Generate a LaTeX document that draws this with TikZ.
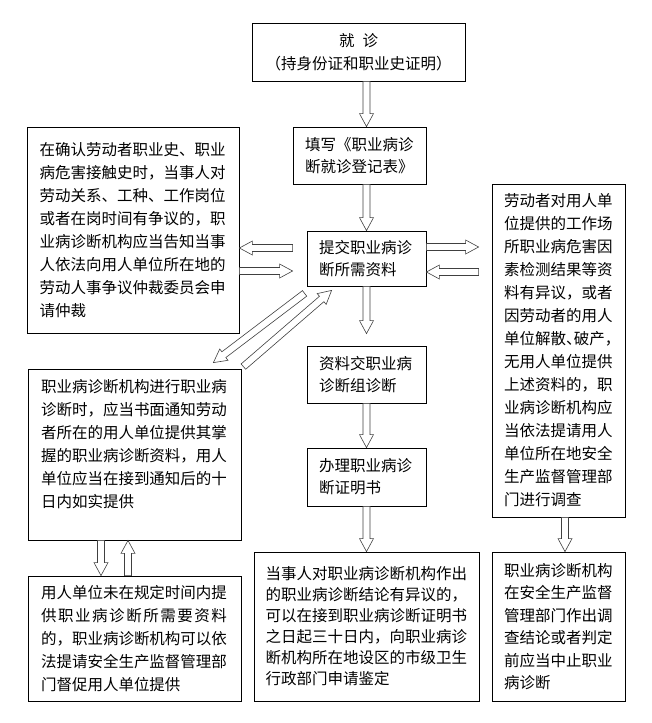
\documentclass[tikz,border=0pt]{standalone}
\usepackage{fontspec}
\setmainfont{Noto Sans CJK SC}
\usetikzlibrary{calc}

\tikzset{
	box/.style = {draw, line width = 0.8pt, inner sep = 0pt, align = left, font = \fontsize{15.5}{23}\selectfont},
	hollow/.style = {draw = black!75, line width = 0.6pt, fill = white, to path = {
		let \p1 = (\tikztostart), \p2 = (\tikztotarget),
			\n1 = {atan2(\y2 - \y1, \x2 - \x1)}, \n2 = {veclen(\x2 - \x1, \y2 - \y1)} in
		($(\p1) + ({\n1 - 90}:3.5pt)$) -- ++(\n1:{\n2 - 13pt}) -- ++({\n1 - 90}:3.5pt) -- (\p2)
		-- ($(\p2) + ({\n1 + 180}:13pt) + ({\n1 + 90}:7pt)$) -- ++({\n1 - 90}:3.5pt)
		-- ($(\p1) + ({\n1 + 90}:3.5pt)$) -- cycle}}
}

\begin{document}
\begin{tikzpicture}[x = 1pt, y = -1pt]

	\useasboundingbox (0, 0) rectangle (652, 723);

	% Middle column
	
		\node (visit) [box, align = center, minimum width = 213pt, minimum height = 58pt] at (358.5, 52) {就\hspace{8pt}诊\\（持身份证和职业史证明）};
		\node (fill) [box, font = \fontsize{15.5}{22}\selectfont, text width = 109pt, minimum width = 133pt, minimum height = 57pt] at (359.5, 155.5) {填写《职业病诊\\断就诊登记表》};
		\node (submit) [box, font = \fontsize{15.5}{22}\selectfont, text width = 95pt, minimum width = 119pt, minimum height = 55pt] at (366.5, 258.5) {提交职业病诊\\断所需资料};
		\node (group) [box, font = \fontsize{15.5}{22}\selectfont, text width = 95pt, minimum width = 119pt, minimum height = 57pt] at (366.5, 374.5) {资料交职业病\\诊断组诊断};
		\node (cert) [box, font = \fontsize{15.5}{22}\selectfont, text width = 95pt, minimum width = 119pt, minimum height = 58pt] at (366.5, 477) {办理职业病诊\\断证明书};
		\node (appeal) [box, font = \fontsize{15.5}{21}\selectfont, text width = 202pt, minimum width = 225pt, minimum height = 149pt] at (366.5, 626.5) {当事人对职业病诊断机构作出\\
			的职业病诊断结论有异议的，\\
			可以在接到职业病诊断证明书\\
			之日起三十日内，向职业病诊\\
			断机构所在地设区的市级卫生\\
			行政部门申请鉴定};
		
	% Left column
	
		\node (dispute) [box, text width = 187pt, minimum width = 212pt, minimum height = 206pt] at (133, 230) {在确认劳动者职业史、职业\\
			病危害接触史时，当事人对\\
			劳动关系、工种、工作岗位\\
			或者在岗时间有争议的，职\\
			业病诊断机构应当告知当事\\
			人依法向用人单位所在地的\\
			劳动人事争议仲裁委员会申\\
			请仲裁};
		\node (notify) [box, text width = 187pt, minimum width = 213pt, minimum height = 171pt] at (134.5, 454.5) {职业病诊断机构进行职业病\\
			诊断时，应当书面通知劳动\\
			者所在的用人单位提供其掌\\
			握的职业病诊断资料，用人\\
			单位应当在接到通知后的十\\
			日内如实提供\\ \mbox{}};
		\node (urge) [box, text width = 187pt, minimum width = 213pt, minimum height = 125pt] at (134.5, 638.5) {用人单位未在规定时间内提\\
			\makebox[186pt][s]{供\hfil 职\hfil 业\hfil 病\hfil 诊\hfil 断\hfil 所\hfil 需\hfil 要\hfil 资\hfil 料}\\
			的，职业病诊断机构可以依\\
			法提请安全生产监督管理部\\
			门督促用人单位提供};
			
	% Right column
	
		\node (survey) [box, text width = 109pt, minimum width = 133pt, minimum height = 333pt] at (558.5, 350.5) {劳动者对用人单\\
			位提供的工作场\\
			所职业病危害因\\
			素检测结果等资\\
			料有异议，或者\\
			因劳动者的用人\\
			单位解散、\kern-.5em破产，\\
			无用人单位提供\\
			上述资料的，职\\
			业病诊断机构应\\
			当依法提请用人\\
			单位所在地安全\\
			生产监督管理部\\
			门进行调查};
		\node (suspend) [box, font = \fontsize{15.5}{22.5}\selectfont, text width = 109pt, minimum width = 133pt, minimum height = 149pt] at (558.5, 626.5) {职业病诊断机构\\
			在安全生产监督\\
			管理部门作出调\\
			查结论或者判定\\
			前应当中止职业\\
			病诊断};
	
	% Hollow arrows
	
		\draw [hollow] (visit.south -| submit.north) to (fill.north -| submit.north);
		\draw [hollow] (fill.south -| submit.north) to (submit.north);
		\draw [hollow] (submit.south) to ([yshift = 12pt]group.north);
		\draw [hollow] (group.south) to (cert.north);
		\draw [hollow] (cert.south) to (appeal.north);
		\draw [hollow] ([xshift = 6.5pt]survey.south) to ([xshift = 6.5pt]suspend.north);
		
		\draw [hollow] ([shift = {(-14pt, 10.5pt)}]submit.west) to ([yshift = 10.5pt]submit.west -| dispute.east);
		\draw [hollow] ([yshift = -12.5pt]submit.west -| dispute.east) to ([shift = {(-14pt, -12.5pt)}]submit.west);
		\draw [hollow] ([yshift = 11.5pt]submit.east) to ([shift = {(-13pt, 11.5pt)}]submit.east -| survey.west);
		\draw [hollow] ([shift = {(-13pt, -13.5pt)}]submit.east -| survey.west) to ([yshift = -13.5pt]submit.east);
		
		\draw [hollow] ([shift = {(-2pt, -7pt)}]submit.south west) to ([shift = {(-28pt, 6pt)}]notify.north east);
		\draw [hollow] ([shift = {(2pt, 2pt)}]notify.north east) to ([shift = {(25pt, -4pt)}]submit.south west);
		
		\draw [hollow] ([xshift = -33.5pt]notify.south) to ([xshift = -33.5pt]urge.north);
		\draw [hollow] ([xshift = -6.5pt]urge.north) to ([xshift = -6.5pt]notify.south);

\end{tikzpicture}
\end{document}
